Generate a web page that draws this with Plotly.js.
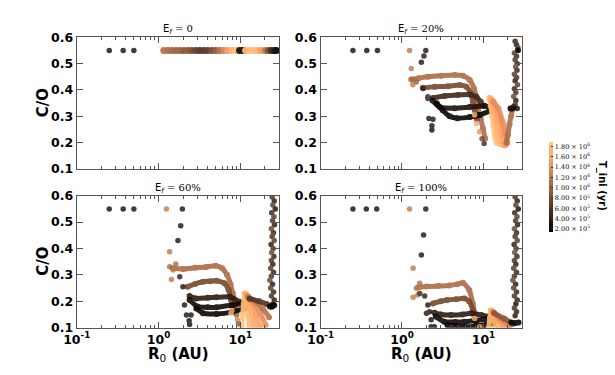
<!DOCTYPE html>
<html>
<head>
<meta charset="utf-8">
<script src="https://cdn.plot.ly/plotly-3.0.1.min.js"></script>
<style>body{margin:0;background:#fff}#chart{width:615px;height:375px}</style>
</head>
<body>
<div id="chart"></div>
<script>
// colour scale limits (T_ini, yr)
const tMin = 1.5e5, tMax = 1.9e6;
const cbTickVals = [2e5, 4e5, 6e5, 8e5, 1e6, 1.2e6, 1.4e6, 1.6e6, 1.8e6];
const cbTickText = ['2.00 × 10<sup>5</sup>', '4.00 × 10<sup>5</sup>', '6.00 × 10<sup>5</sup>', '8.00 × 10<sup>5</sup>',
  '1.00 × 10<sup>6</sup>', '1.20 × 10<sup>6</sup>', '1.40 × 10<sup>6</sup>', '1.60 × 10<sup>6</sup>', '1.80 × 10<sup>6</sup>'];
const panelTitles = ['0', '20%', '60%', '100%'];

// ---- E_f = 0
const ef0DotX = [0.25, 0.37, 0.5];
const ef0DotY = [0.55, 0.55, 0.55];
const ef0DotT = [2.5e5, 2.5e5, 2.5e5];
const ef0BandX = [1.16, 1.30, 1.45, 1.63, 1.82, 2.04, 2.28, 2.55, 2.85, 3.19, 3.57, 3.99, 4.47, 5.0, 5.6, 6.26, 7.0,
  7.83, 8.77, 9.8, 10.7, 11.6, 13.0, 14.5, 16.3, 18.2, 20.4, 22.1, 24.1, 26.2, 27.7];
const ef0BandY = [0.55, 0.55, 0.55, 0.55, 0.55, 0.55, 0.55, 0.55, 0.55, 0.55, 0.55, 0.55, 0.55, 0.55, 0.55, 0.55, 0.55,
  0.55, 0.55, 0.55, 0.55, 0.55, 0.55, 0.55, 0.55, 0.55, 0.55, 0.55, 0.55, 0.55, 0.55];
const ef0BandT = [1.15e6, 1.1e6, 1.05e6, 1.0e6, 1.0e6, 9e5, 9e5, 8e5, 7e5, 6e5, 6e5, 6.5e5, 8e5, 9e5, 1.1e6, 1.3e6, 1.5e6,
  1.7e6, 1.8e6, 3e5, 2.5e5, 1.6e6, 1.8e6, 1.8e6, 1.7e6, 1.5e6, 1.2e6, 8e5, 5e5, 3e5, 2e5];

// ---- E_f = 20%
const ef20DotX = [0.25, 0.37, 0.5, 1.24, 1.96, 1.86, 1.73, 1.30, 1.36, 1.36, 1.5, 1.81, 2.08, 2.08, 2.14, 2.40, 2.33, 2.33,
  7.8, 8.2, 8.98, 9.6, 10.2, 26.4];
const ef20DotY = [0.55, 0.55, 0.55, 0.55, 0.55, 0.529, 0.505, 0.482, 0.42, 0.44, 0.43, 0.406, 0.368, 0.374, 0.292, 0.289, 0.264, 0.248,
  0.305, 0.273, 0.241, 0.215, 0.197, 0.552];
const ef20DotT = [2.5e5, 2.5e5, 2.5e5, 1.2e6, 3e5, 3e5, 3e5, 1.2e6, 1.2e6, 1.1e6, 1.0e6, 4e5, 4e5, 4e5, 3e5, 3e5, 3e5, 2.5e5,
  1.8e6, 1.6e6, 1.4e6, 8e5, 5e5, 2e5];
const ef20TrackT = [1.1e6, 8e5, 5e5, 3e5, 2e5, 1.85e6, 1.75e6, 1.65e6, 1.55e6, 1.4e6, 1.1e6, 2e5];
const ef20TrackX = [
  [1.3, 1.6, 2.08, 3.04, 4.44, 5.61, 6.78, 7.66, 8.19, 8.57, 9.25, 9.87, 10.5],
  [1.81, 2.52, 3.67, 5.11, 6.17, 6.97, 7.43, 7.8, 8.3],
  [2.4, 3.34, 4.86, 6.78, 8.19, 9.25, 10.0],
  [2.37, 2.9, 4.44, 6.78, 10.4, 12.6],
  [2.67, 3.16, 3.85, 4.8, 6.78, 8.98, 11.9, 14.2],
  [11.8, 12.3, 12.8, 13.3, 13.9, 14.5],
  [12.1, 13.0, 14.0, 15.0, 16.0],
  [12.4, 13.7, 15.0, 16.4, 17.6],
  [12.8, 14.3, 16.0, 17.5, 18.7],
  [13.3, 15.3, 17.2, 18.7, 19.6],
  [19.2, 20.0, 20.9, 21.8, 22.6],
  [21.5, 22.5, 23.5]
];
const ef20TrackY = [
  [0.44, 0.445, 0.450, 0.454, 0.457, 0.454, 0.438, 0.406, 0.368, 0.330, 0.292, 0.254, 0.216],
  [0.408, 0.412, 0.414, 0.419, 0.412, 0.387, 0.355, 0.324, 0.29],
  [0.370, 0.377, 0.381, 0.383, 0.374, 0.355, 0.34],
  [0.36, 0.335, 0.331, 0.335, 0.339, 0.33],
  [0.35, 0.323, 0.30, 0.293, 0.297, 0.305, 0.32, 0.33],
  [0.37, 0.34, 0.30, 0.26, 0.22, 0.20],
  [0.37, 0.33, 0.28, 0.23, 0.195],
  [0.365, 0.33, 0.28, 0.23, 0.19],
  [0.36, 0.33, 0.28, 0.23, 0.19],
  [0.355, 0.33, 0.28, 0.235, 0.20],
  [0.20, 0.23, 0.27, 0.30, 0.325],
  [0.33, 0.33, 0.335]
];
const ef20ColX = [24.5, 25.5, 26.5, 26.8, 24.0, 25.5, 24.5, 26.0, 24.8, 25.8, 24.0, 25.5, 24.5, 26.2, 24.0, 25.0, 23.5, 25.0, 24.5, 26.0];
const ef20ColY = [0.585, 0.572, 0.56, 0.55, 0.54, 0.528, 0.515, 0.50, 0.488, 0.475, 0.46, 0.447, 0.435, 0.42, 0.405, 0.39, 0.375, 0.36, 0.345, 0.33];
const ef20ColT = [4e5, 3e5, 5e5, 2e5, 6e5, 4e5, 5e5, 3e5, 7e5, 4e5, 6e5, 5e5, 3e5, 6e5, 4e5, 5e5, 7e5, 3e5, 5e5, 2e5];

// ---- E_f = 60%
const ef60DotX = [0.25, 0.37, 0.5, 1.25, 1.96, 1.87, 1.73, 1.37, 1.63, 1.51, 1.44, 1.37, 1.82, 1.99, 2.08, 2.2, 2.37, 2.4, 2.5,
  7.7, 7.9, 9.2, 9.5];
const ef60DotY = [0.55, 0.55, 0.55, 0.55, 0.55, 0.486, 0.43, 0.388, 0.341, 0.319, 0.283, 0.331, 0.293, 0.255, 0.186, 0.148, 0.126, 0.112, 0.148,
  0.155, 0.165, 0.13, 0.115];
const ef60DotT = [2.5e5, 2.5e5, 2.5e5, 1.2e6, 3e5, 3e5, 3e5, 1.2e6, 1.1e6, 1.2e6, 1.2e6, 1.1e6, 4e5, 3e5, 3e5, 3e5, 2.5e5, 2.5e5, 3e5,
  1.8e6, 1.75e6, 1.3e6, 9e5];
const ef60TrackT = [1.1e6, 8e5, 4e5, 2.5e5, 2e5, 1.85e6, 1.75e6, 1.65e6, 1.55e6, 1.4e6, 1.15e6, 6e5, 2e5];
const ef60TrackX = [
  [1.5, 2.0, 2.8, 3.8, 5.0, 6.0, 6.9, 7.6, 8.1, 8.6, 9.0],
  [2.28, 2.8, 3.5, 4.3, 5.1, 6.4, 7.2, 7.7, 8.1],
  [2.4, 2.9, 4.0, 5.1, 7.4, 9.8],
  [2.4, 3.0, 4.0, 5.1, 8.1, 10.7],
  [2.9, 3.5, 5.1, 8.1, 11.3],
  [11.3, 11.0, 10.7, 10.4],
  [11.5, 12.0, 12.5, 13.0],
  [11.7, 12.8, 14.0, 15.0],
  [12.0, 13.8, 15.5, 17.5],
  [12.3, 15.0, 17.5, 20.5],
  [12.6, 16.0, 19.0, 22.5],
  [13.0, 17.0, 21.0, 24.0],
  [23.0, 24.5, 26.0]
];
const ef60TrackY = [
  [0.325, 0.322, 0.327, 0.33, 0.335, 0.325, 0.30, 0.265, 0.23, 0.19, 0.15],
  [0.255, 0.266, 0.274, 0.276, 0.278, 0.268, 0.243, 0.205, 0.17],
  [0.22, 0.211, 0.213, 0.215, 0.217, 0.198],
  [0.205, 0.18, 0.177, 0.177, 0.186, 0.192],
  [0.173, 0.155, 0.152, 0.16, 0.173],
  [0.23, 0.19, 0.15, 0.105],
  [0.23, 0.19, 0.15, 0.105],
  [0.225, 0.19, 0.15, 0.105],
  [0.22, 0.19, 0.15, 0.105],
  [0.22, 0.19, 0.155, 0.11],
  [0.215, 0.195, 0.17, 0.14],
  [0.21, 0.2, 0.19, 0.18],
  [0.18, 0.18, 0.185]
];
const ef60ColX = [24.5, 26.0, 25.0, 26.8, 24.2, 25.8, 24.8, 26.2, 24.0, 25.5, 24.5, 26.0, 23.8, 25.2, 24.2, 25.8, 24.0, 25.0,
  23.5, 25.5, 24.0, 23.0, 24.8, 23.5, 25.5, 24.0, 26.0, 25.0];
const ef60ColY = [0.595, 0.58, 0.565, 0.55, 0.535, 0.52, 0.505, 0.49, 0.475, 0.46, 0.445, 0.43, 0.415, 0.40, 0.385, 0.37, 0.355, 0.34,
  0.325, 0.31, 0.295, 0.28, 0.265, 0.25, 0.235, 0.22, 0.205, 0.19];
const ef60ColT = [5e5, 3e5, 6e5, 2e5, 4e5, 6e5, 5e5, 3e5, 7e5, 4e5, 5e5, 6e5, 3e5, 5e5, 7e5, 4e5, 5e5, 3e5,
  6e5, 4e5, 5e5, 7e5, 3e5, 6e5, 4e5, 5e5, 3e5, 2e5];

// ---- E_f = 100%
const ef100DotX = [0.25, 0.365, 0.49, 1.24, 1.96, 1.84, 1.73, 1.37, 1.5, 1.65, 1.37, 1.56, 1.65, 1.9, 2.08, 2.18, 2.28, 2.0, 2.5, 2.28,
  7.8, 9.0];
const ef100DotY = [0.55, 0.55, 0.55, 0.55, 0.55, 0.451, 0.375, 0.325, 0.249, 0.268, 0.215, 0.224, 0.23, 0.22, 0.186, 0.16, 0.13, 0.155, 0.104, 0.104,
  0.135, 0.104];
const ef100DotT = [2.5e5, 2.5e5, 2.5e5, 1.2e6, 3e5, 3e5, 3e5, 1.2e6, 1.2e6, 1.1e6, 1.2e6, 1.2e6, 4e5, 4e5, 3e5, 3e5, 2.5e5, 3e5, 2.5e5, 2.5e5,
  1.8e6, 1.7e6];
const ef100TrackT = [1.1e6, 8e5, 4e5, 2.5e5, 2e5, 1.85e6, 1.75e6, 1.65e6, 1.5e6, 1.3e6, 9e5, 2e5];
const ef100TrackX = [
  [1.57, 2.0, 2.8, 3.8, 4.8, 5.6, 6.7, 7.4, 7.8, 8.2],
  [2.4, 3.0, 3.6, 4.6, 5.85, 6.7, 7.4, 7.8],
  [2.5, 3.0, 4.0, 5.5, 7.1, 9.4, 11.8],
  [2.6, 3.3, 4.5, 5.85, 8.0, 10.3, 13.5],
  [3.6, 4.5, 5.85, 8.0, 10.3, 13.5],
  [12.3, 12.0, 11.6],
  [12.5, 13.3, 14.0],
  [12.7, 14.2, 15.8],
  [13.0, 15.5, 18.0],
  [13.3, 17.0, 21.0],
  [13.6, 18.0, 23.0],
  [22.0, 24.5, 27.0]
];
const ef100TrackY = [
  [0.252, 0.256, 0.258, 0.26, 0.265, 0.27, 0.243, 0.192, 0.155, 0.117],
  [0.192, 0.2, 0.205, 0.208, 0.211, 0.199, 0.167, 0.129],
  [0.157, 0.15, 0.148, 0.15, 0.155, 0.148, 0.142],
  [0.142, 0.123, 0.122, 0.123, 0.127, 0.132, 0.135],
  [0.11, 0.106, 0.104, 0.106, 0.11, 0.117],
  [0.165, 0.135, 0.10],
  [0.165, 0.13, 0.10],
  [0.163, 0.13, 0.10],
  [0.16, 0.13, 0.10],
  [0.158, 0.13, 0.105],
  [0.155, 0.135, 0.115],
  [0.12, 0.118, 0.12]
];
const ef100ColX = [24.5, 26.0, 25.0, 26.8, 24.2, 25.8, 24.8, 26.2, 24.0, 25.5, 24.5, 26.0, 23.8, 25.2, 24.2, 25.8, 24.0, 25.0,
  23.5, 25.5, 24.0, 23.0, 24.8, 23.5, 25.5, 24.0, 26.0, 25.0, 24.0, 25.5, 24.5];
const ef100ColY = [0.595, 0.58, 0.565, 0.55, 0.535, 0.52, 0.505, 0.49, 0.475, 0.46, 0.445, 0.43, 0.415, 0.40, 0.385, 0.37, 0.355, 0.34,
  0.325, 0.31, 0.295, 0.28, 0.265, 0.25, 0.235, 0.22, 0.205, 0.19, 0.175, 0.16, 0.145];
const ef100ColT = [5e5, 3e5, 6e5, 2e5, 4e5, 6e5, 5e5, 3e5, 7e5, 4e5, 5e5, 6e5, 3e5, 5e5, 7e5, 4e5, 5e5, 3e5,
  6e5, 4e5, 5e5, 7e5, 3e5, 6e5, 4e5, 5e5, 3e5, 2e5, 5e5, 4e5, 3e5];

// matplotlib "copper"
function copper(t) {
  let v = Math.max(0, Math.min(1, (t - tMin) / (tMax - tMin)));
  let r = Math.min(1, 1.25 * v) * 255, g = 0.7812 * v * 255, b = 0.4975 * v * 255;
  return `rgb(${r.toFixed(0)},${g.toFixed(0)},${b.toFixed(0)})`;
}
const copperScale = [[0, 'rgb(0,0,0)'], [0.8, 'rgb(255,159,101)'], [1, 'rgb(255,199,127)']];

let traces = [];
function dots(x, y, t, n, size, op) {
  traces.push({
    type: 'scatter', mode: 'markers', x: x, y: y, xaxis: 'x' + n, yaxis: 'y' + n,
    marker: { color: t, coloraxis: 'coloraxis', size: size || 5.5, line: { width: 0 } },
    opacity: op || 0.8, hoverinfo: 'skip', showlegend: false
  });
}
function tracks(X, Y, T, n) {
  X.forEach((xs, i) => {
    traces.push({
      type: 'scatter', mode: 'lines+markers', x: xs, y: Y[i], xaxis: 'x' + n, yaxis: 'y' + n,
      line: { color: copper(T[i]), width: 5, shape: 'spline', smoothing: 0.6 },
      marker: { color: xs.map(() => T[i]), coloraxis: 'coloraxis', size: 6, line: { width: 0 } },
      opacity: 0.9, hoverinfo: 'skip', showlegend: false
    });
  });
}

dots(ef0BandX, ef0BandY, ef0BandT, '', 7, 0.95);
dots(ef0DotX, ef0DotY, ef0DotT, '');
tracks(ef20TrackX, ef20TrackY, ef20TrackT, 2);
dots(ef20ColX, ef20ColY, ef20ColT, 2);
dots(ef20DotX, ef20DotY, ef20DotT, 2);
tracks(ef60TrackX, ef60TrackY, ef60TrackT, 3);
dots(ef60ColX, ef60ColY, ef60ColT, 3);
dots(ef60DotX, ef60DotY, ef60DotT, 3);
tracks(ef100TrackX, ef100TrackY, ef100TrackT, 4);
dots(ef100ColX, ef100ColY, ef100ColT, 4);
dots(ef100DotX, ef100DotY, ef100DotT, 4);

const W = 615, H = 375;
const colDom = [[76.7 / W, 279.3 / W], [320.5 / W, 522.3 / W]];
const rowDom = [[1 - 169 / H, 1 - 37.3 / H], [1 - 327.7 / H, 1 - 195.7 / H]];
const frame = '#555';
function xAxis(col, row, anchor) {
  return {
    type: 'log', range: [-1, Math.log10(30)], domain: colDom[col], anchor: anchor,
    ticks: 'inside', ticklen: 6, tickcolor: frame, showline: true, linecolor: frame, linewidth: 1,
    mirror: 'allticks', showgrid: false, zeroline: false,
    tickvals: [0.1, 1, 10], ticktext: ['10<sup>-1</sup>', '10<sup>0</sup>', '10<sup>1</sup>'],
    showticklabels: row === 1,
    tickfont: { family: 'DejaVu Sans', size: 12.5, weight: 'bold', color: '#000' },
    minor: { ticks: 'inside', ticklen: 3, tickcolor: frame,
      tickvals: [0.2, 0.3, 0.4, 0.5, 0.6, 0.7, 0.8, 0.9, 2, 3, 4, 5, 6, 7, 8, 9, 20, 30] }
  };
}
function yAxis(row, anchor) {
  return {
    range: [0.1, 0.6], domain: rowDom[row], anchor: anchor, tick0: 0.1, dtick: 0.1, tickformat: '.1f',
    ticks: 'inside', ticklen: 6, tickcolor: frame, showline: true, linecolor: frame, linewidth: 1,
    mirror: 'allticks', showgrid: false, zeroline: false,
    tickfont: { family: 'DejaVu Sans', size: 12.5, weight: 'bold', color: '#000' }
  };
}

let annotations = [];
const pos = [[0, 0], [1, 0], [0, 1], [1, 1]];
pos.forEach((p, i) => {
  annotations.push({
    xref: 'paper', yref: 'paper', x: (colDom[p[0]][0] + colDom[p[0]][1]) / 2, y: rowDom[p[1]][1],
    xanchor: 'center', yanchor: 'bottom', yshift: -1, showarrow: false,
    text: 'E<sub><i>f</i></sub><span style="font-family:DejaVu Serif"> = ' + panelTitles[i] + '</span>',
    font: { family: 'DejaVu Sans', size: 10, color: '#000' }
  });
});
[0, 1].forEach(r => {
  annotations.push({
    xref: 'paper', yref: 'paper', x: 43 / W, y: (rowDom[r][0] + rowDom[r][1]) / 2,
    xanchor: 'center', yanchor: 'middle', textangle: -90, showarrow: false,
    text: '<b>C/O</b>', font: { family: 'DejaVu Sans', size: 15, color: '#000' }
  });
});
[0, 1].forEach(c => {
  annotations.push({
    xref: 'paper', yref: 'paper', x: (colDom[c][0] + colDom[c][1]) / 2, y: 1 - 354 / H,
    xanchor: 'center', yanchor: 'middle', showarrow: false,
    text: '<b>R</b><sub>0</sub><b> (AU)</b>', font: { family: 'DejaVu Sans', size: 15, color: '#000' }
  });
});
annotations.push({
  xref: 'paper', yref: 'paper', x: 602 / W, y: 1 - 186 / H, xanchor: 'center', yanchor: 'middle',
  textangle: 90, showarrow: false, text: '<b>T_ini (yr)</b>',
  font: { family: 'DejaVu Sans', size: 10, color: '#000' }
});

const layout = {
  width: W, height: H, margin: { l: 0, r: 0, t: 0, b: 0 },
  paper_bgcolor: '#fff', plot_bgcolor: '#fff', showlegend: false,
  font: { family: 'DejaVu Sans', color: '#000' },
  xaxis: xAxis(0, 0, 'y'), yaxis: yAxis(0, 'x'),
  xaxis2: xAxis(1, 0, 'y2'), yaxis2: yAxis(0, 'x2'),
  xaxis3: xAxis(0, 1, 'y3'), yaxis3: yAxis(1, 'x3'),
  xaxis4: xAxis(1, 1, 'y4'), yaxis4: yAxis(1, 'x4'),
  coloraxis: {
    cmin: tMin, cmax: tMax, colorscale: copperScale,
    colorbar: {
      x: 549 / W, xanchor: 'left', y: 1 - 186.5 / H, yanchor: 'middle', len: 90, lenmode: 'pixels',
      thickness: 4, outlinewidth: 0, ticks: 'inside', ticklen: 2, tickcolor: '#333',
      tickvals: cbTickVals, ticktext: cbTickText,
      tickfont: { family: 'DejaVu Serif', size: 6.5, color: '#000' }, xpad: 0, ypad: 0
    }
  },
  annotations: annotations
};

Plotly.newPlot('chart', traces, layout, { staticPlot: true });
</script>
</body>
</html>
